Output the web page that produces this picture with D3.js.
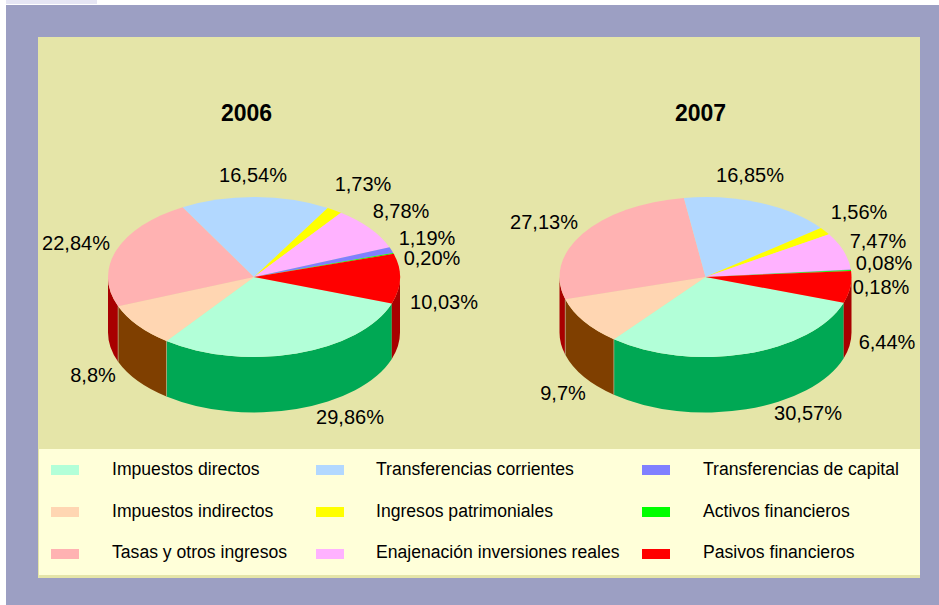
<!DOCTYPE html>
<html>
<head>
<meta charset="utf-8">
<script src="https://cdn.jsdelivr.net/npm/d3@7"></script>
<style>
  html, body { margin: 0; padding: 0; background: #fff; }
  svg { display: block; font-family: "Liberation Sans", Arial, sans-serif; }
</style>
</head>
<body>
<svg id="chart"></svg>
<script>
const width = 939, height = 605;

const categories = ["Impuestos directos", "Impuestos indirectos", "Tasas y otros ingresos",
  "Transferencias corrientes", "Ingresos patrimoniales", "Enajenación inversiones reales",
  "Transferencias de capital", "Activos financieros", "Pasivos financieros"];
const values2006 = [29.86, 8.8, 22.84, 16.54, 1.73, 8.78, 1.19, 0.20, 10.03];
const values2007 = [30.57, 9.7, 27.13, 16.85, 1.56, 7.47, 0.08, 0.18, 6.44];
const labels2006 = ["29,86%", "8,8%", "22,84%", "16,54%", "1,73%", "8,78%", "1,19%", "0,20%", "10,03%"];
const labels2007 = ["30,57%", "9,7%", "27,13%", "16,85%", "1,56%", "7,47%", "0,08%", "0,18%", "6,44%"];

// colores de cara superior y de pared
const topColors = ["#b2ffd8", "#ffd6b2", "#ffb2b2", "#b2d8ff", "#ffff00", "#ffb2ff", "#8080ff", "#00ff00", "#ff0000"];
const sideColors = ["#00a854", "#7f3f00", "#a80000", "#0054a8", "#a8a800", "#a800a8", "#0000a8", "#00a800", "#a80000"];

// posicion de las etiquetas (centro x, centro y)
const labelPos2006 = [[350, 417], [93, 375], [76, 243], [253, 175], [363, 184], [401, 211], [427, 238], [432, 258], [444, 302]];
const labelPos2007 = [[808, 413], [563, 393], [544, 222], [750, 175], [859, 212], [878, 241], [884, 263], [881, 287], [887, 342]];

const rx = 146, ry = 80, depth = 55.5, cy = 277;

const color = d3.scaleOrdinal().domain(categories).range(topColors);
const sideColor = d3.scaleOrdinal().domain(categories).range(sideColors);

const svg = d3.select("#chart").attr("width", width).attr("height", height);

// fondos
svg.append("rect").attr("x", 6).attr("y", 0).attr("width", 91).attr("height", 4).attr("fill", "#e6e6f4");
svg.append("rect").attr("x", 6).attr("y", 5).attr("width", width - 6).attr("height", height - 5).attr("fill", "#9c9fc3");
svg.append("rect").attr("x", 38).attr("y", 37).attr("width", 882).attr("height", 541).attr("fill", "#e5e5a8");
svg.append("rect").attr("x", 39).attr("y", 449).attr("width", 881).attr("height", 126).attr("fill", "#ffffd9");

const arc = d3.arc().innerRadius(0).outerRadius(rx);
const dyWall = depth * rx / ry;

function wallPath(d) {
  // solo la parte delantera (de las 3 a las 9 en el sentido del reloj)
  const a0 = Math.max(d.startAngle, Math.PI / 2), a1 = Math.min(d.endAngle, 3 * Math.PI / 2);
  const b0 = Math.max(d.startAngle, Math.PI / 2 + 2 * Math.PI), b1 = Math.min(d.endAngle, 3 * Math.PI / 2 + 2 * Math.PI);
  const segs = [[a0, a1], [b0, b1]].filter(s => s[1] > s[0]);
  const p = d3.path();
  segs.forEach(([s, e]) => {
    const t0 = s - Math.PI / 2, t1 = e - Math.PI / 2;
    p.moveTo(rx * Math.cos(t0), rx * Math.sin(t0));
    p.arc(0, 0, rx, t0, t1);
    p.lineTo(rx * Math.cos(t1), rx * Math.sin(t1) + dyWall);
    p.arc(0, dyWall, rx, t1, t0, true);
    p.closePath();
  });
  return p.toString();
}

function drawPie(title, cx, titleX, startDeg, values, labels, labelPos) {
  const startAngle = startDeg * Math.PI / 180;
  const pie = d3.pie().sort(null).value(d => d.value)
    .startAngle(startAngle).endAngle(startAngle + 2 * Math.PI);
  const data = categories.map((name, i) => ({ name, value: values[i], label: labels[i], pos: labelPos[i] }));
  const slices = pie(data);

  const g = svg.append("g")
    .attr("transform", `translate(${cx},${cy}) scale(1,${ry / rx})`);

  g.selectAll("path.wall")
    .data(slices)
    .join("path")
    .attr("class", "wall")
    .attr("d", wallPath)
    .attr("fill", d => sideColor(d.data.name));

  // costuras claras entre paredes
  g.selectAll("line.seam")
    .data(slices.filter(d => Math.sin(d.startAngle - Math.PI / 2) > 0 && d.startAngle > startAngle))
    .join("line")
    .attr("class", "seam")
    .attr("x1", d => rx * Math.cos(d.startAngle - Math.PI / 2))
    .attr("x2", d => rx * Math.cos(d.startAngle - Math.PI / 2))
    .attr("y1", d => rx * Math.sin(d.startAngle - Math.PI / 2))
    .attr("y2", d => rx * Math.sin(d.startAngle - Math.PI / 2) + dyWall)
    .attr("stroke", "#b8b08a")
    .attr("stroke-width", 0.7)
    .attr("vector-effect", "non-scaling-stroke");

  g.selectAll("path.top")
    .data(slices)
    .join("path")
    .attr("class", "top")
    .attr("d", arc)
    .attr("fill", d => color(d.data.name));

  svg.append("text")
    .attr("x", titleX).attr("y", 113)
    .attr("text-anchor", "middle").attr("dominant-baseline", "central")
    .attr("font-size", 23).attr("font-weight", "bold")
    .text(title);

  svg.append("g").selectAll("text")
    .data(data)
    .join("text")
    .attr("x", d => d.pos[0]).attr("y", d => d.pos[1])
    .attr("text-anchor", "middle").attr("dominant-baseline", "central")
    .attr("font-size", 20)
    .text(d => d.label);
}

drawPie("2006", 254, 246.5, 109.3, values2006, labels2006, labelPos2006);
drawPie("2007", 705.5, 700.5, 108.8, values2007, labels2007, labelPos2007);

// leyenda
const legendCols = [51, 316, 642], legendTextCols = [112, 376, 703];
const legendRows = [470, 512, 554], legendTextRows = [469, 511, 552];
const legend = svg.append("g").selectAll("g")
  .data(categories)
  .join("g");

legend.append("rect")
  .attr("x", (d, i) => legendCols[Math.floor(i / 3)])
  .attr("y", (d, i) => legendRows[i % 3] - 5)
  .attr("width", 28).attr("height", 10)
  .attr("fill", d => color(d));

legend.append("text")
  .attr("x", (d, i) => legendTextCols[Math.floor(i / 3)])
  .attr("y", (d, i) => legendTextRows[i % 3])
  .attr("dominant-baseline", "central")
  .attr("font-size", 17.6)
  .text(d => d);
</script>
</body>
</html>
